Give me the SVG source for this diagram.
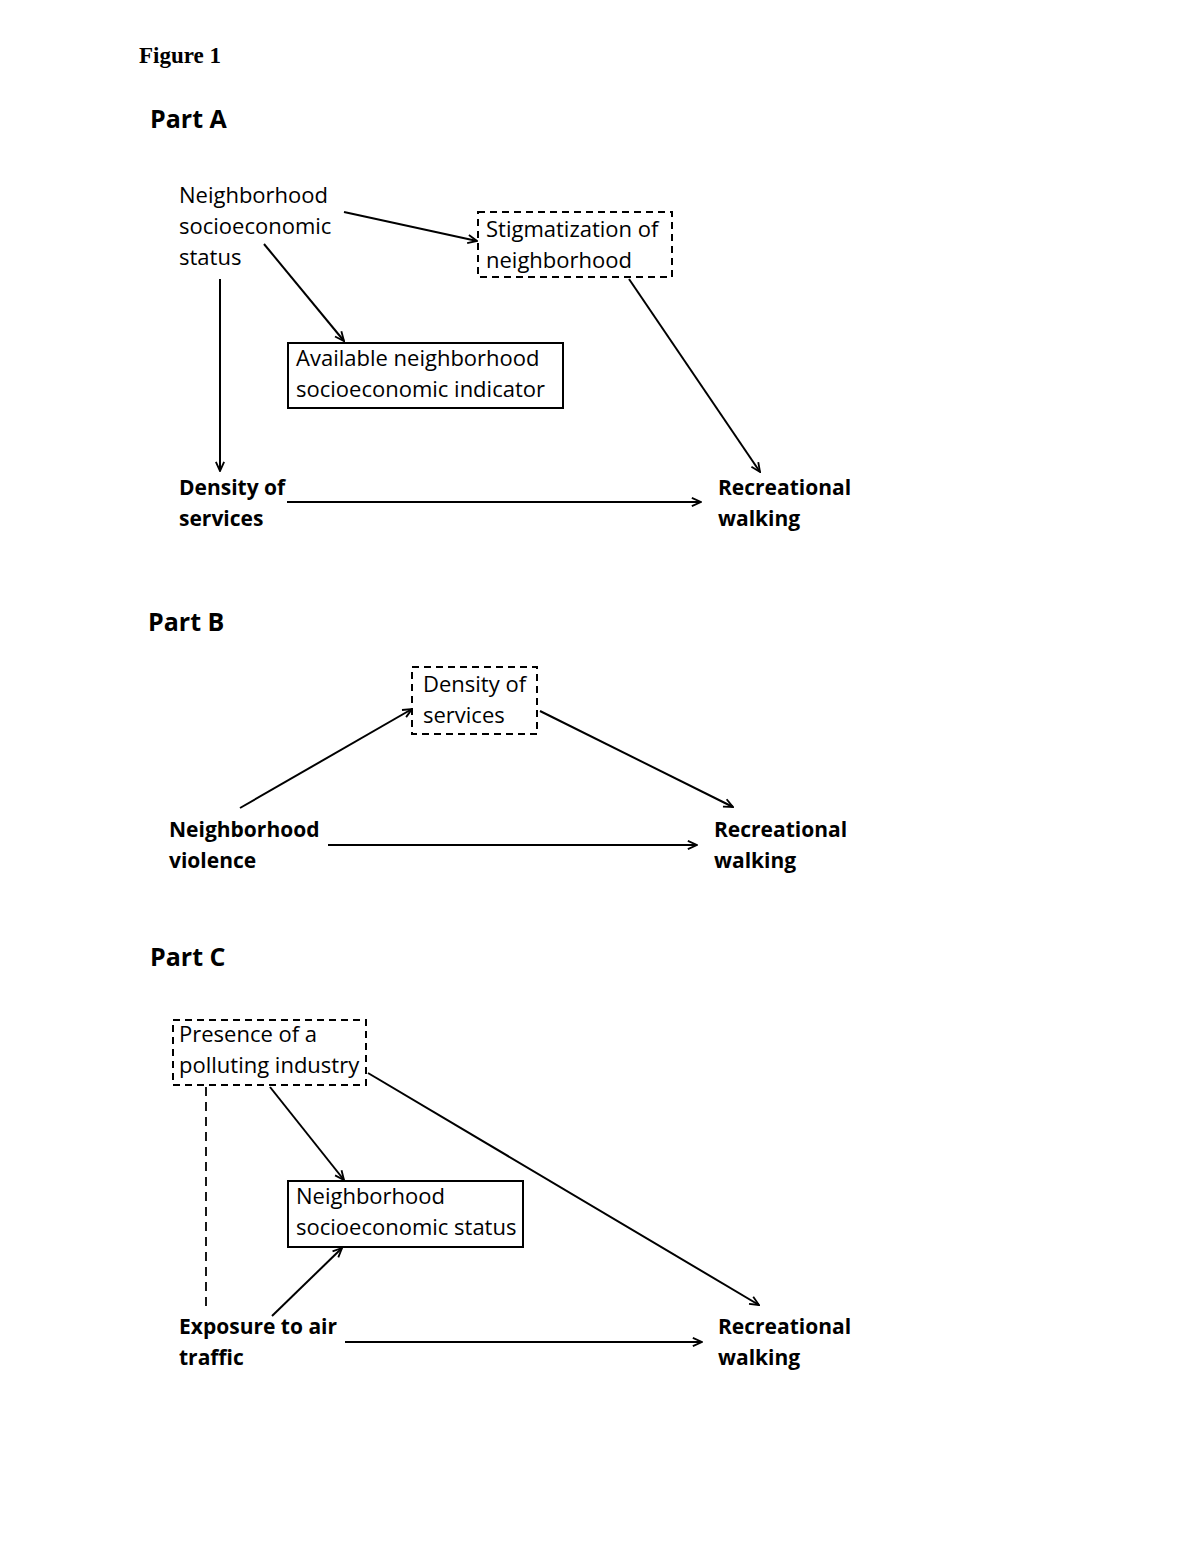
<svg xmlns="http://www.w3.org/2000/svg" width="1200" height="1553" viewBox="0 0 1200 1553">
<style>
.t{font-family:"Open Sans","Liberation Sans",sans-serif;font-size:22px;fill:#000}
.b{font-family:"Open Sans","Liberation Sans",sans-serif;font-size:21px;font-weight:bold;fill:#000}
.h{font-family:"Open Sans","Liberation Sans",sans-serif;font-size:25px;font-weight:bold;fill:#000}
.fig{font-family:"Liberation Serif",serif;font-size:23px;font-weight:bold;fill:#000}
.box{fill:none;stroke:#000;stroke-width:2}
.dbox{fill:none;stroke:#000;stroke-width:2;stroke-dasharray:7,5}
.c{fill:none;stroke:#000;stroke-width:2;marker-end:url(#ah)}
.d{fill:none;stroke:#000;stroke-width:1.8;stroke-dasharray:9,6}
</style>
<defs>
<marker id="ah" viewBox="0 0 12 12" refX="11" refY="6" markerWidth="11" markerHeight="11" markerUnits="userSpaceOnUse" orient="auto">
<path d="M1,1.5 L11,6 L1,10.5" fill="none" stroke="#000" stroke-width="2"/>
</marker>
</defs>
<rect width="1200" height="1553" fill="#fff"/>
<text class="fig" x="139" y="63">Figure 1</text>
<text class="h" x="150" y="128">Part A</text>
<text class="h" x="148" y="631">Part B</text>
<text class="h" x="150" y="966">Part C</text>

<g id="connectors">
<line class="c" x1="344" y1="212" x2="477" y2="241"/>
<line class="c" x1="264" y1="244" x2="344" y2="341"/>
<line class="c" x1="220" y1="279" x2="220" y2="471"/>
<line class="c" x1="287" y1="502" x2="701" y2="502"/>
<line class="c" x1="629" y1="279" x2="760" y2="472"/>
<line class="c" x1="240" y1="808" x2="412" y2="709"/>
<line class="c" x1="540" y1="711" x2="733" y2="807"/>
<line class="c" x1="328" y1="845" x2="697" y2="845"/>
<line class="d" x1="206" y1="1087" x2="206" y2="1308"/>
<line class="c" x1="270" y1="1087" x2="344" y2="1180"/>
<line class="c" x1="272" y1="1316" x2="342" y2="1248"/>
<line class="c" x1="368" y1="1073" x2="759" y2="1305"/>
<line class="c" x1="345" y1="1342" x2="702" y2="1342"/>
</g>

<g id="a-nses">
<text class="t" x="179" y="203">Neighborhood</text>
<text class="t" x="179" y="234">socioeconomic</text>
<text class="t" x="179" y="265">status</text>
</g>
<g id="a-stigma">
<rect class="dbox" x="478" y="212" width="194" height="65"/>
<text class="t" x="486" y="237">Stigmatization of</text>
<text class="t" x="486" y="268">neighborhood</text>
</g>
<g id="a-indicator">
<rect class="box" x="288" y="343" width="275" height="65"/>
<text class="t" x="296" y="366">Available neighborhood</text>
<text class="t" x="296" y="397">socioeconomic indicator</text>
</g>
<g id="a-density">
<text class="b" x="179" y="495">Density of</text>
<text class="b" x="179" y="526">services</text>
</g>
<g id="a-walking">
<text class="b" x="718" y="495">Recreational</text>
<text class="b" x="718" y="526">walking</text>
</g>

<g id="b-density">
<rect class="dbox" x="412" y="667" width="125" height="67"/>
<text class="t" x="423" y="692">Density of</text>
<text class="t" x="423" y="723">services</text>
</g>
<g id="b-violence">
<text class="b" x="169" y="837">Neighborhood</text>
<text class="b" x="169" y="868">violence</text>
</g>
<g id="b-walking">
<text class="b" x="714" y="837">Recreational</text>
<text class="b" x="714" y="868">walking</text>
</g>

<g id="c-industry">
<rect class="dbox" x="173" y="1020" width="193" height="65"/>
<text class="t" x="179" y="1042">Presence of a</text>
<text class="t" x="179" y="1073">polluting industry</text>
</g>
<g id="c-nses">
<rect class="box" x="288" y="1181" width="235" height="66"/>
<text class="t" x="296" y="1204">Neighborhood</text>
<text class="t" x="296" y="1235">socioeconomic status</text>
</g>
<g id="c-air">
<text class="b" x="179" y="1334">Exposure to air</text>
<text class="b" x="179" y="1365">traffic</text>
</g>
<g id="c-walking">
<text class="b" x="718" y="1334">Recreational</text>
<text class="b" x="718" y="1365">walking</text>
</g>
</svg>
